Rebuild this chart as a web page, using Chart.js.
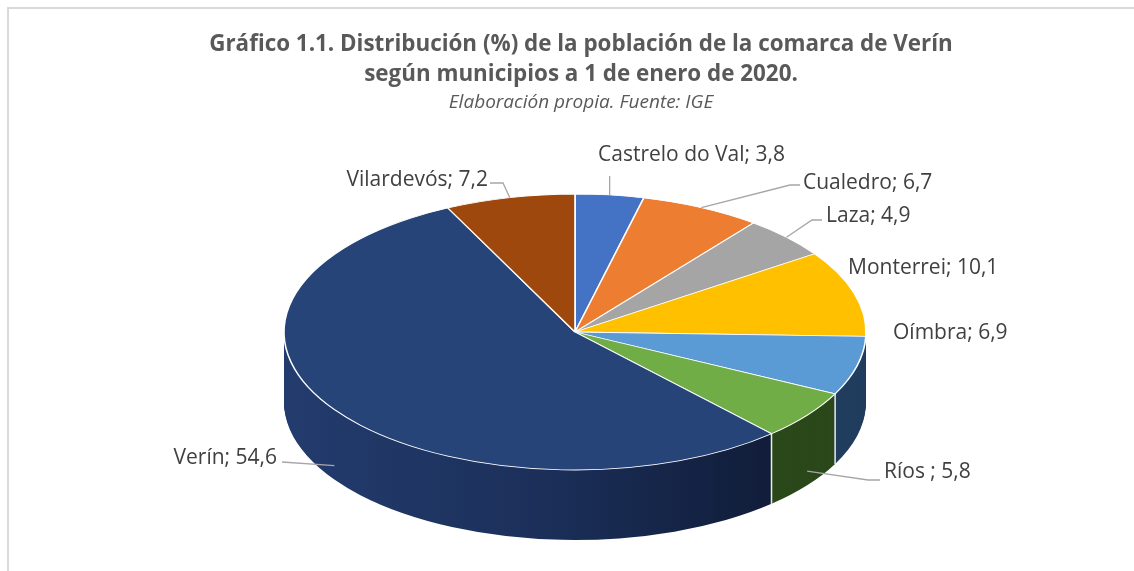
<!DOCTYPE html>
<html>
<head>
<meta charset="utf-8">
<script src="https://cdn.jsdelivr.net/npm/chart.js@4.4.0/dist/chart.umd.min.js"></script>
<style>
    html, body { margin: 0; padding: 0; background: #fff; overflow: hidden; }
    #wrap { position: relative; width: 1134px; height: 571px; }
    #marco { position: absolute; left: 7px; top: 7px; right: 0; bottom: 0;
             border-left: 2px solid #d9d9d9; border-top: 2px solid #d9d9d9; }
    canvas { position: absolute; left: 0; top: 0; }
</style>
</head>
<body>
<div id="wrap">
    <div id="marco"></div>
    <canvas id="grafico" width="1134" height="571"></canvas>
</div>
<script>
// Datos: distribución (%) de la población por municipios, 1-1-2020
const municipios = ["Castrelo do Val", "Cualedro", "Laza", "Monterrei", "Oímbra", "Ríos ", "Verín", "Vilardevós"];
const porcentajes = [3.8, 6.7, 4.9, 10.1, 6.9, 5.8, 54.6, 7.2];

const coloresCara = ["#4472c4", "#ed7d31", "#a5a5a5", "#ffc000", "#5b9bd5", "#70ad47", "#264478", "#9e480e"];
const coloresLado = ["#2a4a85", "#a3531c", "#6e6e6e", "#a67c00", "#203d5e", "#2b481b", "#1c3160", "#5e2a08"];

// elipse de la cara superior en pantalla y altura del lateral
const elipse = { cx: 575, cy: 332, rx: 291, ry: 138, fondo: 70 };

// colocación de las etiquetas (x null = misma x que el ancla)
const etiquetas = [
    { x: 598, y: 155, align: "left", guia: [[null, 176]] },
    { x: 803, y: 183, align: "left", guia: [[790, 185], [800, 185]] },
    { x: 826, y: 216, align: "left", guia: [[812, 220], [822, 220]] },
    { x: 848, y: 268, align: "left", guia: null },
    { x: 893, y: 333, align: "left", guia: null },
    { x: 884, y: 472, align: "left", guia: [[868, 480], [880, 480]] },
    { x: 277, y: 458, align: "right", guia: [[282, 462]] },
    { x: 488, y: 180, align: "right", guia: [[503, 183], [490, 183]] },
];

const fuente = "'Open Sans', Lato, sans-serif";
const formato = (v) => v.toFixed(1).replace(".", ",");

function transformar(ctx, arco, dy) {
    const sx = elipse.rx / arco.outerRadius;
    const sy = elipse.ry / arco.outerRadius;
    ctx.translate(elipse.cx, elipse.cy + dy);
    ctx.scale(sx, sy);
    ctx.translate(-arco.x, -arco.y);
}

function puntoBorde(angulo) {
    return [elipse.cx + elipse.rx * Math.cos(angulo), elipse.cy + elipse.ry * Math.sin(angulo)];
}

const pastel3d = {
    id: "pastel3d",
    beforeDatasetsDraw(chart) {
        const ctx = chart.ctx;
        const arcos = chart.getDatasetMeta(0).data;
        const ref = arcos[0];
        const sx = elipse.rx / ref.outerRadius;
        const gx = (X) => ref.x + (X - elipse.cx) / sx;

        // degradado del lateral de Verín
        const degradado = ctx.createLinearGradient(gx(elipse.cx - elipse.rx), 0, gx(elipse.cx + 230), 0);
        degradado.addColorStop(0, "#233c6e");
        degradado.addColorStop(0.5, "#1b2f59");
        degradado.addColorStop(1, "#0f1a35");

        // lateral: la tarta apilada hacia abajo
        for (let d = elipse.fondo; d >= 1; d--) {
            ctx.save();
            transformar(ctx, ref, d);
            arcos.forEach((arco, i) => {
                const original = arco.options;
                arco.options = Object.assign({}, original, {
                    backgroundColor: i === 6 ? degradado : coloresLado[i],
                    borderWidth: 0,
                });
                arco.draw(ctx);
                arco.options = original;
            });
            ctx.restore();
        }

        // aristas verticales blancas en la parte delantera
        ctx.save();
        ctx.strokeStyle = "rgba(255,255,255,0.9)";
        ctx.lineWidth = 1.5;
        arcos.forEach((arco) => {
            const a = arco.startAngle;
            if (Math.sin(a) > 0.05) {
                const [x, y] = puntoBorde(a);
                ctx.beginPath();
                ctx.moveTo(x, y);
                ctx.lineTo(x, y + elipse.fondo);
                ctx.stroke();
            }
        });
        ctx.restore();

        // cara superior
        ctx.save();
        transformar(ctx, ref, 0);
    },
    afterDatasetsDraw(chart) {
        chart.ctx.restore();
    },
    afterDraw(chart) {
        const ctx = chart.ctx;
        const arcos = chart.getDatasetMeta(0).data;
        ctx.save();
        ctx.font = "21px " + fuente;
        ctx.fillStyle = "#404040";
        ctx.textBaseline = "middle";
        ctx.strokeStyle = "#a6a6a6";
        ctx.lineWidth = 1.3;
        arcos.forEach((arco, i) => {
            const et = etiquetas[i];
            const medio = (arco.startAngle + arco.endAngle) / 2;
            let [ax, ay] = puntoBorde(medio);
            if (Math.sin(medio) > 0.3) ay += elipse.fondo * 0.8;
            if (et.guia) {
                ctx.beginPath();
                ctx.moveTo(ax, ay);
                et.guia.forEach(([px, py]) => ctx.lineTo(px === null ? ax : px, py));
                ctx.stroke();
            }
            ctx.textAlign = et.align;
            ctx.fillText(municipios[i] + "; " + formato(porcentajes[i]), et.x, et.y);
        });
        ctx.restore();
    },
};

new Chart(document.getElementById("grafico"), {
    type: "pie",
    data: {
        labels: municipios,
        datasets: [
            {
                data: porcentajes,
                backgroundColor: coloresCara,
                borderColor: "#ffffff",
                borderWidth: 1.2,
                clip: false,
            },
        ],
    },
    options: {
        responsive: false,
        animation: false,
        events: [],
        layout: { padding: { left: 28, right: 0, top: 0, bottom: 10 } },
        plugins: {
            legend: { display: false },
            tooltip: { enabled: false },
            title: {
                display: true,
                text: [
                    "Gráfico 1.1. Distribución (%) de la población de la comarca de Verín",
                    "según municipios a 1 de enero de 2020.",
                ],
                color: "#595959",
                font: { family: fuente, size: 22.4, weight: "bold", lineHeight: 1.32 },
                padding: { top: 30, bottom: 0 },
            },
            subtitle: {
                display: true,
                text: "Elaboración propia. Fuente: IGE",
                color: "#595959",
                font: { family: fuente, size: 19, style: "italic" },
                padding: { top: 2, bottom: 10 },
            },
        },
    },
    plugins: [pastel3d],
});
</script>
</body>
</html>
